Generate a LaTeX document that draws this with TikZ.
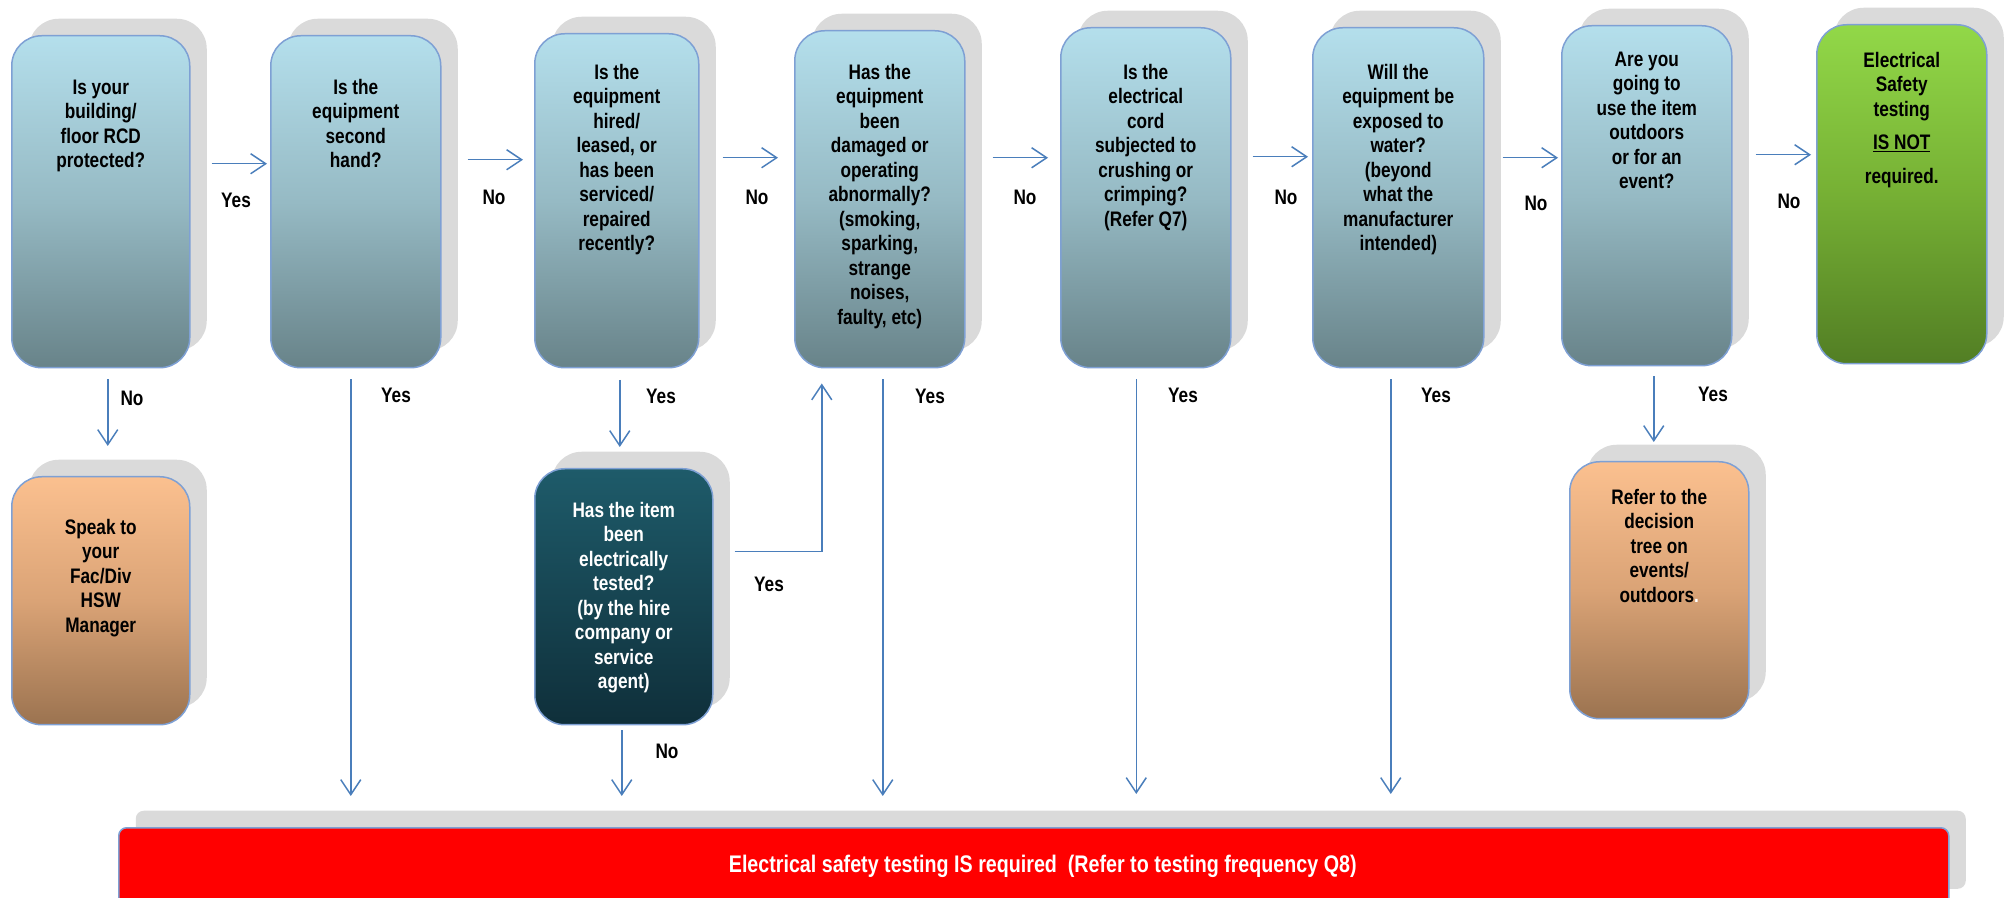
\documentclass[tikz,border=0pt]{standalone}
\usepackage{fontspec}
\setmainfont{Liberation Sans}[FakeStretch=0.82]
\usetikzlibrary{shadows,calc,arrows.meta}
\definecolor{shd}{RGB}{218,218,218}
\definecolor{bord}{RGB}{126,160,212}
\definecolor{arrc}{RGB}{74,126,187}
\definecolor{blueT}{RGB}{180,223,236}
\definecolor{blueM}{RGB}{150,186,196}
\definecolor{blueB}{RGB}{104,131,137}
\definecolor{tealT}{RGB}{30,91,106}
\definecolor{tealB}{RGB}{15,47,58}
\definecolor{orT}{RGB}{251,192,143}
\definecolor{orM}{RGB}{218,163,118}
\definecolor{orB}{RGB}{155,115,80}
\definecolor{grT}{RGB}{146,216,72}
\definecolor{grM}{RGB}{118,176,52}
\definecolor{grB}{RGB}{82,126,36}
\newcommand\bx{\fontsize{21}{24.5}\selectfont\bfseries}
\newcommand\bigbx{\fontsize{24}{28}\selectfont\bfseries}
\begin{document}
\begin{tikzpicture}[x=1pt,y=1pt,
  box/.style={draw=bord, line width=1.5pt, rounded corners=30pt, anchor=north west, inner sep=0pt,
    general shadow={fill=shd, shadow xshift=17pt, shadow yshift=17pt}},
  qbox/.style={box, top color=blueT, bottom color=blueB, middle color=blueM},
  obox/.style={box, top color=orT, bottom color=orB, middle color=orM},
  gbox/.style={box, top color=grT, bottom color=grB, middle color=grM},
  tbox/.style={box, top color=tealT, bottom color=tealB},
  txt/.style={font=\bx, align=center, inner sep=0pt, anchor=north},
  lab/.style={font=\bx, inner sep=0pt},
  arr/.style={draw=arrc, line width=1.5pt, -{Straight Barb[length=15pt,width=20pt]}}
]
\path[use as bounding box] (0,0) rectangle (2005,897);
\clip (0,0) rectangle (2005,897);

% question boxes
\node[qbox, minimum width=178, minimum height=332] (q1) at (11,862) {};
\node[qbox, minimum width=170, minimum height=332] (q2) at (270,862) {};
\node[qbox, minimum width=164, minimum height=334] (q3) at (534,864) {};
\node[qbox, minimum width=170, minimum height=337] (q4) at (794,867) {};
\node[qbox, minimum width=170, minimum height=340] (q5) at (1060,870) {};
\node[qbox, minimum width=171, minimum height=340] (q6) at (1312,870) {};
\node[qbox, minimum width=170, minimum height=340] (q7) at (1561,872) {};
\node[gbox, minimum width=170, minimum height=339] (q8) at (1816,873) {};
\node[tbox, minimum width=178, minimum height=256] (q9) at (534,429) {};
\node[obox, minimum width=179, minimum height=257] (q10) at (1569,436) {};
\node[obox, minimum width=178, minimum height=248] (q11) at (11,421) {};
\node[box, rounded corners=8pt, fill=red, minimum width=1830, minimum height=78,
  font=\bigbx, text=white] (red) at (118,70) {\hspace*{18pt}Electrical safety testing IS required\ \ (Refer to testing frequency Q8)};

% texts
\node[txt] (t1) at ($(q1.north)+(0,-42)$) {\strut Is your\\building/\\floor RCD\\protected?};
\node[txt] (t2) at ($(q2.north)+(0,-42)$) {\strut Is the\\equipment\\second\\hand?};
\node[txt] (t3) at ($(q3.north)+(0,-29)$) {\strut Is the\\equipment\\hired/\\leased, or\\has been\\serviced/\\repaired\\recently?};
\node[txt] (t4) at ($(q4.north)+(0,-32)$) {\strut Has the\\equipment\\been\\damaged or\\operating\\abnormally?\\(smoking,\\sparking,\\strange\\noises,\\faulty, etc)};
\node[txt] (t5) at ($(q5.north)+(0,-35)$) {\strut Is the\\electrical\\cord\\subjected to\\crushing or\\crimping?\\(Refer Q7)};
\node[txt] (t6) at ($(q6.north)+(0,-35)$) {\strut Will the\\equipment be\\exposed to\\water?\\(beyond\\what the\\manufacturer\\intended)};
\node[txt] (t7) at ($(q7.north)+(0,-24)$) {\strut Are you\\going to\\use the item\\outdoors\\or for an\\event?};
\node[txt] (t8) at ($(q8.north)+(0,-26)$) {\strut Electrical\\Safety\\testing\\[9pt]\underline{IS NOT}\\[9pt]required.};
\node[txt, text=white] (t9) at ($(q9.north)+(0,-32)$) {\strut Has the item\\been\\electrically\\tested?\\(by the hire\\company or\\service\\agent)};
\node[txt] (t10) at ($(q10.north)+(0,-26)$) {\strut Refer to the\\decision\\tree on\\events/\\outdoors{\color{white}.}};
\node[txt] (t11) at ($(q11.north)+(0,-41)$) {\strut Speak to\\your\\Fac/Div\\HSW\\Manager};

% horizontal connectors
\draw[arr] ($(q1.east)+(21,38)$) -- ($(q2.west)+(-3,38)$);
\draw[arr] ($(q2.east)+(26,42)$) -- ($(q3.west)+(-11,41)$);
\draw[arr] ($(q3.east)+(23,43)$) -- ($(q4.west)+(-16,41.5)$);
\draw[arr] ($(q4.east)+(27,41.5)$) -- ($(q5.west)+(-12,40)$);
\draw[arr] ($(q5.east)+(21,41)$) -- ($(q6.west)+(-4,41)$);
\draw[arr] ($(q6.east)+(18,40)$) -- ($(q7.west)+(-3,38)$);
\draw[arr] ($(q7.east)+(23,41)$) -- ($(q8.west)+(-5,39.5)$);

% vertical connectors
\draw[arr] ($(q1.south)+(7,-11)$) -- ($(q11.north)+(7,30)$);
\draw[arr] ($(q2.south)+(-5,-11)$) -- ($(q2.south |- red.north)+(-5,31)$);
\draw[arr] ($(q3.south)+(3,-11.5)$) -- ($(q9.north)+(-4,21)$);
\draw[arr] ($(q9.east)+(21,45)$) -| ($(q4.south)+(-58,-15)$);
\draw[arr] ($(q9.south)+(-2,-5)$) -- ($(q9.south |- red.north)+(-2,31)$);
\draw[arr] ($(q4.south)+(3,-11)$) -- ($(q4.south |- red.north)+(3,31)$);
\draw[arr] ($(q5.south)+(-9.5,-11)$) -- ($(q5.south |- red.north)+(-9.5,33)$);
\draw[arr] ($(q6.south)+(-7.5,-11)$) -- ($(q6.south |- red.north)+(-7.5,33)$);
\draw[arr] ($(q7.south)+(7,-10)$) -- ($(q10.north)+(-5.5,19)$);

% labels
\node[lab] (l1) at (236,697) {Yes};
\node[lab] (l2) at (494,700) {No};
\node[lab] (l3) at (757,700) {No};
\node[lab] (l4) at (1025,700) {No};
\node[lab] (l5) at (1286,700) {No};
\node[lab] (l6) at (1536,694) {No};
\node[lab] (l7) at (1789,696) {No};
\node[lab] (l8) at (132,499) {No};
\node[lab] (l9) at (396,502) {Yes};
\node[lab] (l10) at (661,501) {Yes};
\node[lab] (l11) at (930,501) {Yes};
\node[lab] (l12) at (1183,502) {Yes};
\node[lab] (l13) at (1436,502) {Yes};
\node[lab] (l14) at (1713,503) {Yes};
\node[lab] (l15) at (769,313) {Yes};
\node[lab] (l16) at (667,146) {No};
\end{tikzpicture}
\end{document}
